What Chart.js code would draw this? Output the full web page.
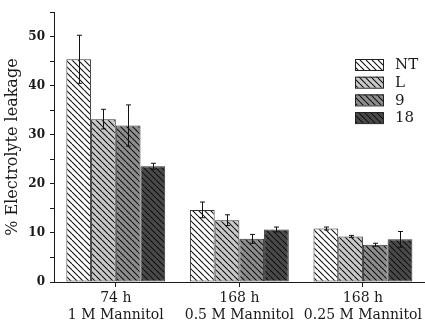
<!DOCTYPE html>
<html><head><meta charset="utf-8">
<script src="https://cdn.jsdelivr.net/npm/chart.js@4"></script>
<style>html,body{margin:0;padding:0;background:#fff}#wrap{width:425px;height:328px;position:relative}</style>
</head><body><div id="wrap"><canvas id="c"></canvas></div>
<script>
const categories = [['74 h','1 M Mannitol'],['168 h','0.5 M Mannitol'],['168 h','0.25 M Mannitol']];
const seriesNames = ['NT','L','9','18'];
const ntValues = [45.4, 14.7, 10.9];
const lValues = [33.2, 12.6, 9.3];
const nineValues = [31.9, 8.8, 7.6];
const eighteenValues = [23.6, 10.7, 8.7];
const ntErrors = [4.9, 1.6, 0.3];
const lErrors = [2.0, 1.1, 0.2];
const nineErrors = [4.2, 0.9, 0.3];
const eighteenErrors = [0.6, 0.5, 1.6];
const yTickLabels = [0, 10, 20, 30, 40, 50];
const yAxisTitle = '% Electrolyte leakage';

const FONT = "'DejaVu Serif', serif";
const INK = '#1a1a1a';

function hatch(bg) {
  const s = 6;
  const c = document.createElement('canvas');
  c.width = s; c.height = s;
  const g = c.getContext('2d');
  g.fillStyle = bg; g.fillRect(0, 0, s, s);
  g.strokeStyle = '#111'; g.lineWidth = 1.1;
  g.beginPath();
  for (const k of [-s, 0, s]) { g.moveTo(k, 0); g.lineTo(k + s, s); }
  g.stroke();
  return g.createPattern(c, 'repeat');
}
const fills = [hatch('#ffffff'), hatch('#c9c9c9'), hatch('#8e8e8e'), hatch('#4a4a4a')];

const valueSets = [ntValues, lValues, nineValues, eighteenValues];
const errorSets = [ntErrors, lErrors, nineErrors, eighteenErrors];

const datasets = seriesNames.map((name, i) => ({
  label: name,
  data: valueSets[i],
  errors: errorSets[i],
  backgroundColor: fills[i],
  borderColor: '#333',
  borderWidth: 1,
  borderSkipped: false,
  categoryPercentage: 0.8,
  barPercentage: 1.0
}));

const errorBars = {
  id: 'errorBars',
  afterDatasetsDraw(chart) {
    const ctx = chart.ctx, y = chart.scales.y;
    chart.data.datasets.forEach((ds, i) => {
      const meta = chart.getDatasetMeta(i);
      meta.data.forEach((bar, j) => {
        const v = ds.data[j], e = ds.errors[j];
        const x = Math.round(bar.x) + 0.5;
        const yt = y.getPixelForValue(v + e), yb = y.getPixelForValue(v - e);
        ctx.save();
        ctx.strokeStyle = '#111'; ctx.lineWidth = 1;
        ctx.beginPath();
        ctx.moveTo(x, yt); ctx.lineTo(x, yb);
        ctx.moveTo(x - 2.5, yt); ctx.lineTo(x + 2.5, yt);
        ctx.moveTo(x - 2.5, yb); ctx.lineTo(x + 2.5, yb);
        ctx.stroke();
        ctx.restore();
      });
    });
  }
};

const boxLegend = {
  id: 'boxLegend',
  afterDraw(chart) {
    const ctx = chart.ctx;
    const x0 = 355, y0 = 59, bw = 28, bh = 11, gap = 17.7;
    ctx.save();
    chart.data.datasets.forEach((ds, i) => {
      const y = y0 + i * gap;
      ctx.fillStyle = ds.backgroundColor;
      ctx.fillRect(x0, y, bw, bh);
      ctx.strokeStyle = '#222'; ctx.lineWidth = 1;
      ctx.strokeRect(x0 + 0.5, y + 0.5, bw, bh);
      ctx.fillStyle = INK;
      ctx.font = "15px " + FONT;
      ctx.textBaseline = 'middle';
      ctx.textAlign = 'left';
      ctx.fillText(ds.label, 395, y + bh / 2 + 1);
    });
    ctx.restore();
  }
};

new Chart(document.getElementById('c'), {
  type: 'bar',
  data: { labels: categories, datasets },
  plugins: [errorBars, boxLegend],
  options: {
    responsive: true,
    maintainAspectRatio: false,
    animation: false,
    layout: { padding: { top: 8, right: 0, left: 0, bottom: 0 } },
    plugins: { legend: { display: false }, tooltip: { enabled: false } },
    scales: {
      x: {
        grid: { display: true, drawOnChartArea: false, offset: false, tickLength: 5, color: INK },
        border: { display: true, color: INK, width: 1 },
        ticks: { color: INK, font: { family: FONT, size: 14, lineHeight: 1.2 }, maxRotation: 0, autoSkip: false, padding: 3 },
        afterFit(scale) { scale.height = 46; }
      },
      y: {
        min: 0, max: 55,
        grid: { display: true, drawOnChartArea: false, tickLength: 4, color: INK },
        border: { display: true, color: INK, width: 1 },
        ticks: {
          stepSize: 5, color: INK, padding: 5,
          font: { family: FONT, size: 12, weight: 'bold' },
          callback: (v) => yTickLabels.includes(v) ? String(v) : ''
        },
        title: { display: true, text: yAxisTitle, color: INK, font: { family: FONT, size: 16 }, padding: { top: 3, bottom: 4 } },
        afterFit(scale) { scale.width = 54; }
      }
    }
  }
});
</script>
</body></html>
